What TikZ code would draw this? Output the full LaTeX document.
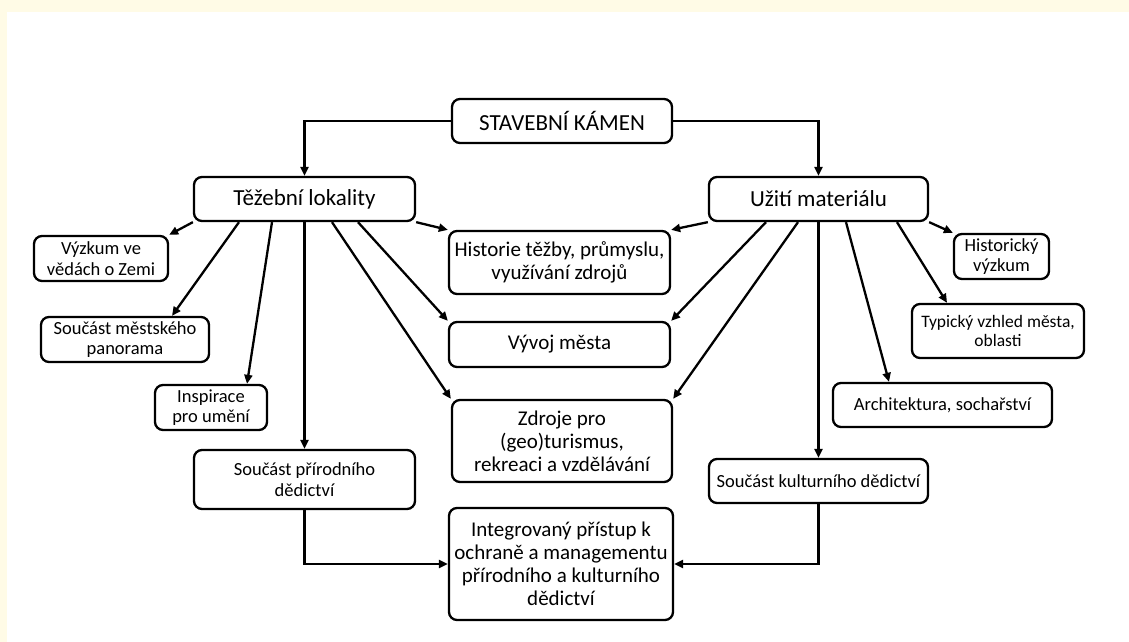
\documentclass[tikz,border=0pt]{standalone}
\usepackage{fontspec}
\setmainfont{Carlito}
\usetikzlibrary{arrows.meta}
\definecolor{cream}{RGB}{255,251,230}

\begin{document}
\begin{tikzpicture}[x=1pt,y=-1pt,
  box/.style={draw,line width=2.3pt,rounded corners=8pt,align=center,inner sep=1pt},
  big/.style={box,font=\fontsize{23}{26}\selectfont,minimum height=44pt},
  mid/.style={box,font=\fontsize{21}{23}\selectfont},
  small/.style={box,font=\fontsize{18.5}{20.5}\selectfont},
  link/.style={line width=2.3pt,-{Triangle[length=9pt,width=8pt]}}]
  \useasboundingbox (0,0) rectangle (1129,642);
  \fill[cream] (0,0) rectangle (1129,642);
  \fill[white] (7,12) rectangle (1129,642);
  \node[big,minimum width=220pt] (stone) at (562,121) {STAVEBNÍ KÁMEN};
  \node[big,minimum width=221pt] (quarry) at (304.5,199) {Těžební lokality};
  \node[big,minimum width=219pt] (usage) at (818.5,199) {Užití materiálu};
  \node[small,minimum width=134pt,minimum height=45pt] (research) at (101,258.5) {Výzkum ve\\vědách o Zemi};
  \node[small,minimum width=168pt,minimum height=45pt] (skyline) at (125,339.5) {Součást městského\\panorama};
  \node[small,minimum width=112pt,minimum height=45pt] (art) at (211,407.5) {Inspirace\\pro umění};
  \node[small,minimum width=221pt,minimum height=59pt] (natural) at (304.5,479.5) {Součást přírodního\\dědictví};
  \node[mid,minimum width=221pt,minimum height=63pt] (history) at (559.5,262.5) {Historie těžby, průmyslu,\\využívání zdrojů};
  \node[mid,minimum width=221pt,minimum height=45pt] (city) at (559.5,344.5) {Vývoj města};
  \node[mid,minimum width=220pt,minimum height=82pt] (tourism) at (562,441) {Zdroje pro\\(geo)turismus,\\rekreaci a vzdělávání};
  \node[mid,minimum width=224pt,minimum height=112pt] (integrated) at (561,564) {Integrovaný přístup k\\ochraně a managementu\\přírodního a kulturního\\dědictví};
  \node[small,minimum width=95pt,minimum height=45pt] (histres) at (1001.5,256.5) {Historický\\výzkum};
  \node[small,minimum width=172pt,minimum height=54pt,font=\fontsize{17.5}{19.5}\selectfont] (look) at (998,331) {Typický vzhled města,\\oblasti};
  \node[small,minimum width=219pt,minimum height=44pt] (arch) at (942.5,405) {Architektura, sochařství};
  \node[small,minimum width=219pt,minimum height=44pt] (cultural) at (818.5,481) {Součást kulturního dědictví};
  \draw[link] (stone.west) -| (quarry.north);
  \draw[link] (stone.east) -| (usage.north);
  \draw[link] (quarry.south west) -- (research.north east);
  \draw[link] ([xshift=-65.5pt]quarry.south) -- ([xshift=47pt]skyline.north);
  \draw[link] ([xshift=-32.5pt]quarry.south) -- ([xshift=36pt]art.north);
  \draw[link] (quarry.south) -- (natural.north);
  \draw[link] ([xshift=27.5pt]quarry.south) -- (tourism.north west);
  \draw[link] ([xshift=53.5pt]quarry.south) -- (city.north west);
  \draw[link] (quarry.south east) -- (history.north west);
  \draw[link] (usage.south west) -- (history.north east);
  \draw[link] ([xshift=-52.5pt]usage.south) -- (city.north east);
  \draw[link] ([xshift=-20.5pt]usage.south) -- (tourism.north east);
  \draw[link] (usage.south) -- (cultural.north);
  \draw[link] ([xshift=27.5pt]usage.south) -- ([xshift=-53.5pt]arch.north);
  \draw[link] ([xshift=78.5pt]usage.south) -- ([xshift=-51pt]look.north);
  \draw[link] (usage.south east) -- (histres.north west);
  \draw[link] (natural.south) |- (integrated.west);
  \draw[link] (cultural.south) |- (integrated.east);
\end{tikzpicture}
\end{document}
